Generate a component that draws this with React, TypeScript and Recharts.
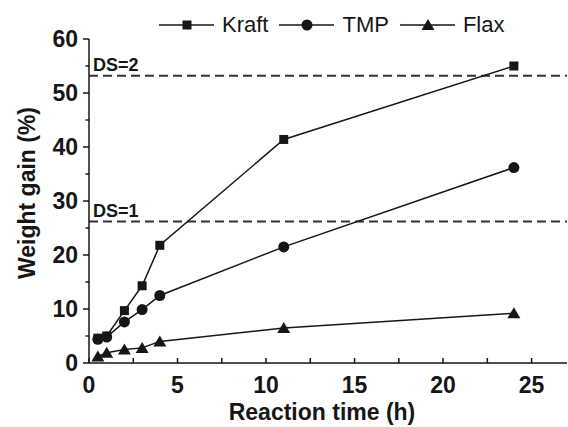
import React from 'react';
import { LineChart, Line, XAxis, YAxis, ReferenceLine } from 'recharts';

const times = [0.5, 1, 2, 3, 4, 11, 24];
const kraft = [4.6, 5.0, 9.7, 14.3, 21.8, 41.4, 55.0];
const tmp = [4.4, 4.8, 7.6, 9.9, 12.5, 21.5, 36.2];
const flax = [1.2, 1.9, 2.5, 2.8, 4.0, 6.5, 9.2];

const seriesNames = ['Kraft', 'TMP', 'Flax'];
const seriesKeys = ['kraft', 'tmp', 'flax'];
const seriesShapes = ['square', 'circle', 'triangle'];

const xTicks = [0, 2.5, 5, 7.5, 10, 12.5, 15, 17.5, 20, 22.5, 25];
const yTicks = [0, 5, 10, 15, 20, 25, 30, 35, 40, 45, 50, 55, 60];

const dsLevels = [26.2, 53.2];
const dsLabels = ['DS=1', 'DS=2'];

const data = times.map((t, i) => ({ t, kraft: kraft[i], tmp: tmp[i], flax: flax[i] }));

const FONT = '"Liberation Sans", Arial, Helvetica, sans-serif';
const INK = '#161616';

function Marker({ shape, cx, cy }: { shape: string; cx: number; cy: number }) {
  if (shape === 'square') {
    return <rect x={cx - 4.5} y={cy - 4.5} width={9} height={9} fill={INK} />;
  }
  if (shape === 'circle') {
    return <circle cx={cx} cy={cy} r={5.5} fill={INK} />;
  }
  return <polygon points={`${cx},${cy - 6} ${cx - 6.5},${cy + 5} ${cx + 6.5},${cy + 5}`} fill={INK} />;
}

const makeDot = (shape: string) => (props: any) => {
  const { cx, cy, index } = props;
  if (cx == null || cy == null) return <g key={index} />;
  return <Marker key={`${shape}-${index}`} shape={shape} cx={cx} cy={cy} />;
};

const XTick = (props: any) => {
  const { x, y, payload } = props;
  const v = payload.value;
  const major = v % 5 === 0;
  return (
    <g>
      <line x1={x} y1={y} x2={x} y2={y - 5} stroke={INK} strokeWidth={1.5} />
      {major && (
        <text x={x} y={y + 30} textAnchor="middle" fontFamily={FONT} fontWeight="bold" fontSize={23} fill={INK}>
          {v}
        </text>
      )}
    </g>
  );
};

const YTick = (props: any) => {
  const { x, y, payload } = props;
  const v = payload.value;
  const major = v % 10 === 0;
  return (
    <g>
      <line x1={x - (major ? 6 : 3.5)} y1={y} x2={x} y2={y} stroke={INK} strokeWidth={1.5} />
      {major && (
        <text x={x - 11} y={y + 8} textAnchor="end" fontFamily={FONT} fontWeight="bold" fontSize={23} fill={INK}>
          {v}
        </text>
      )}
    </g>
  );
};

const DSLabel = (props: any) => {
  const { viewBox, text } = props;
  if (!viewBox) return null;
  return (
    <text x={viewBox.x + 4} y={viewBox.y - 4.5} fontFamily={FONT} fontWeight="bold" fontSize={18} fill={INK}>
      {text}
    </text>
  );
};

function LegendBox() {
  return (
    <div
      style={{
        position: 'absolute',
        left: 159,
        top: 11,
        display: 'flex',
        alignItems: 'center',
        fontFamily: FONT,
        fontSize: 22,
        color: INK,
        lineHeight: '28px',
      }}
    >
      {seriesNames.map((name, i) => (
        <div key={name} style={{ display: 'flex', alignItems: 'center', marginRight: i < 2 ? 11 : 0 }}>
          <svg width={55} height={28} style={{ display: 'block' }}>
            <line x1={0} y1={14} x2={55} y2={14} stroke={INK} strokeWidth={1.5} />
            <Marker shape={seriesShapes[i]} cx={28} cy={14} />
          </svg>
          <span style={{ marginLeft: 8 }}>{name}</span>
        </div>
      ))}
    </div>
  );
}

export default function App() {
  return (
    <div style={{ position: 'absolute', left: 0, top: 0, width: 568, height: 427, background: '#fff' }}>
      <LineChart width={568} height={427} data={data} margin={{ top: 39, right: 1, bottom: 0, left: 0 }}>
        <XAxis
          dataKey="t"
          type="number"
          domain={[0, 27]}
          ticks={xTicks}
          interval={0}
          height={64}
          tickSize={0}
          tickMargin={0}
          tickLine={false}
          axisLine={{ stroke: INK, strokeWidth: 1.5 }}
          tick={<XTick />}
          allowDecimals
        />
        <YAxis
          type="number"
          domain={[0, 60]}
          ticks={yTicks}
          interval={0}
          width={89}
          tickSize={0}
          tickMargin={0}
          tickLine={false}
          axisLine={{ stroke: INK, strokeWidth: 1.5 }}
          tick={<YTick />}
        />
        {dsLevels.map((lv, i) => (
          <ReferenceLine
            key={dsLabels[i]}
            y={lv}
            stroke="#333"
            strokeWidth={2}
            strokeDasharray="9 5"
            label={<DSLabel text={dsLabels[i]} />}
          />
        ))}
        {seriesKeys.map((k, i) => (
          <Line
            key={k}
            dataKey={k}
            type="linear"
            stroke={INK}
            strokeWidth={1.5}
            dot={makeDot(seriesShapes[i])}
            activeDot={false}
            isAnimationActive={false}
          />
        ))}
        <text
          x={322}
          y={420}
          textAnchor="middle"
          fontFamily={FONT}
          fontWeight="bold"
          fontSize={23}
          fill={INK}
        >
          Reaction time (h)
        </text>
        <text
          x={35}
          y={193}
          textAnchor="middle"
          transform="rotate(-90, 35, 193)"
          fontFamily={FONT}
          fontWeight="bold"
          fontSize={23}
          fill={INK}
        >
          Weight gain (%)
        </text>
      </LineChart>
      <LegendBox />
    </div>
  );
}
